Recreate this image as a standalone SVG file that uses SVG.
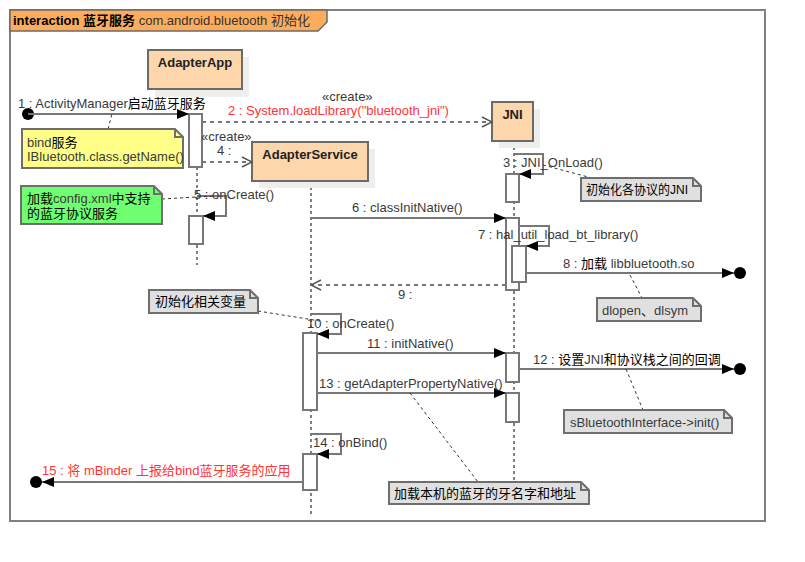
<svg xmlns="http://www.w3.org/2000/svg" width="805" height="562" viewBox="0 0 805 562">
<defs>
<style>
text{font-family:"Liberation Sans",Arial,"Noto Sans CJK SC",sans-serif;font-size:13px;fill:#3a3a3a}
.b{font-weight:bold;fill:#222}
.red{fill:#ff3333}
.cn{fill:#000}
.ll{stroke:#000;stroke-width:1;stroke-dasharray:3,3;fill:none}
.msg{stroke:#777;stroke-width:2;fill:none}
.dmsg{stroke:#777;stroke-width:2;stroke-dasharray:4,4;fill:none}
.act{fill:#fff;stroke:#777;stroke-width:2}
.box{fill:#fdd6ab;stroke:#6e6a66;stroke-width:2}
.sh{fill:#eeeeee}
.note{stroke:#6e6e6e;stroke-width:2}
.nl{stroke:#333;stroke-width:1;stroke-dasharray:3,3;fill:none}
</style>
<marker id="fa" viewBox="0 0 12 10" refX="12" refY="5" markerWidth="12" markerHeight="10" markerUnits="userSpaceOnUse" orient="auto">
<path d="M0,0 L12,5 L0,10 z" fill="#000"/>
</marker>
<marker id="oa" viewBox="0 0 12 12" refX="11" refY="6" markerWidth="12" markerHeight="12" markerUnits="userSpaceOnUse" orient="auto">
<path d="M1,1 L11,6 L1,11" fill="none" stroke="#555" stroke-width="1.5"/>
</marker>
</defs>
<rect width="805" height="562" fill="#fff"/>

<g id="frame">
<rect x="10" y="10" width="755" height="511" fill="none" stroke="#808080" stroke-width="2"/>
<path d="M10,10 H327 V22 L318,31 H10 Z" fill="#fdab5c" stroke="#6e6a66" stroke-width="1.5"/>
<text x="13" y="25"><tspan class="b" style="fill:#000">interaction 蓝牙服务</tspan><tspan style="fill:#333">  com.android.bluetooth 初始化</tspan></text>
</g>

<g id="lifelines">
<line class="ll" x1="197" y1="89" x2="197" y2="265"/>
<line class="ll" x1="311" y1="181" x2="311" y2="514"/>
<line class="ll" x1="514" y1="141" x2="514" y2="482"/>
</g>

<g id="AdapterApp">
<rect class="sh" x="155" y="57" width="94" height="40"/>
<rect class="box" x="148" y="50" width="94" height="39"/>
<text class="b" x="195" y="67" text-anchor="middle">AdapterApp</text>
</g>

<g id="JNI">
<rect class="sh" x="499" y="109" width="41" height="39"/>
<rect class="box" x="492" y="102" width="41" height="39"/>
<text class="b" x="512.5" y="119" text-anchor="middle">JNI</text>
</g>

<g id="AdapterService">
<rect class="sh" x="259" y="149" width="116" height="39"/>
<rect class="box" x="252" y="142" width="116" height="39"/>
<text class="b" x="310" y="159" text-anchor="middle">AdapterService</text>
</g>

<g id="activations">
<rect class="act" x="189" y="114" width="13" height="53"/>
<rect class="act" x="189" y="216" width="14" height="28"/>
<rect class="act" x="506" y="174" width="13" height="28"/>
<rect class="act" x="506" y="218" width="13" height="72"/>
<rect class="act" x="512" y="246" width="14" height="36"/>
<rect class="act" x="303" y="333" width="14" height="77"/>
<rect class="act" x="506" y="353" width="13" height="29"/>
<rect class="act" x="506" y="393" width="13" height="29"/>
<rect class="act" x="303" y="454" width="14" height="36"/>
</g>

<g id="connectors">
<circle cx="28" cy="114" r="6" fill="#000"/>
<line class="msg" x1="28" y1="114" x2="189" y2="114" marker-end="url(#fa)"/>
<text x="18" y="108">1 : ActivityManager<tspan class="cn">启动蓝牙服务</tspan></text>

<line class="dmsg" x1="202" y1="122" x2="492" y2="122" marker-end="url(#oa)"/>
<text x="322" y="101">«create»</text>
<text class="red" x="228" y="115">2 : System.loadLibrary("bluetooth_jni")</text>

<polyline class="msg" points="514,154 543,154 543,174 519,174" marker-end="url(#fa)"/>
<text x="503" y="167">3 : JNI_OnLoad()</text>

<line class="dmsg" x1="202" y1="162" x2="252" y2="162" marker-end="url(#oa)"/>
<text x="201" y="141">«create»</text>
<text x="217" y="155">4 :</text>

<polyline class="msg" points="197,196 226,196 226,216 203,216" marker-end="url(#fa)"/>
<text x="194" y="199">5 : onCreate()</text>

<line class="msg" x1="311" y1="218" x2="506" y2="218" marker-end="url(#fa)"/>
<text x="352" y="212">6 : classInitNative()</text>

<polyline class="msg" points="519,226 549,226 549,246 526,246" marker-end="url(#fa)"/>
<text x="478" y="239">7 : hal_util_load_bt_library()</text>

<line class="msg" x1="526" y1="273" x2="734" y2="273" marker-end="url(#fa)"/>
<circle cx="740" cy="273" r="6" fill="#000"/>
<text x="563" y="268">8 : <tspan class="cn">加载</tspan> libbluetooth.so</text>

<line class="dmsg" x1="506" y1="285" x2="311" y2="285" marker-end="url(#oa)"/>
<text x="398" y="299">9 :</text>

<polyline class="msg" points="311,314 341,314 341,334 317,334" marker-end="url(#fa)"/>
<text x="307" y="328">10 : onCreate()</text>

<line class="msg" x1="317" y1="353" x2="506" y2="353" marker-end="url(#fa)"/>
<text x="367" y="348">11 : initNative()</text>

<line class="msg" x1="519" y1="369" x2="734" y2="369" marker-end="url(#fa)"/>
<circle cx="740" cy="369" r="6" fill="#000"/>
<text x="533" y="364">12 : <tspan class="cn">设置</tspan>JNI<tspan class="cn">和协议栈之间的回调</tspan></text>

<line class="msg" x1="317" y1="393" x2="506" y2="393" marker-end="url(#fa)"/>
<text x="319" y="388">13 : getAdapterPropertyNative()</text>

<polyline class="msg" points="311,434 341,434 341,454 317,454" marker-end="url(#fa)"/>
<text x="313" y="447">14 : onBind()</text>

<line class="msg" x1="303" y1="482" x2="42" y2="482" marker-end="url(#fa)"/>
<circle cx="36" cy="482" r="6" fill="#000"/>
<text class="red" x="42" y="475">15 : 将 mBinder 上报给bind蓝牙服务的应用</text>

<line class="nl" x1="108" y1="129" x2="112" y2="114"/>
<line class="nl" x1="162" y1="199" x2="213" y2="196"/>
<line class="nl" x1="543" y1="165" x2="592" y2="178"/>
<line class="nl" x1="630" y1="275" x2="642" y2="298"/>
<line class="nl" x1="258" y1="311" x2="320" y2="321"/>
<line class="nl" x1="626" y1="369" x2="643" y2="410"/>
<line class="nl" x1="410" y1="393" x2="478" y2="482"/>
</g>

<g id="note-bind">
<path class="note" d="M22,129 H175 L183,137 V168 H22 Z" fill="#ffff88"/>
<path class="note" d="M175,129 V137 H183" fill="none"/>
<text x="27" y="147">bind<tspan class="cn">服务</tspan></text>
<text x="27" y="161">IBluetooth.class.getName()</text>
</g>

<g id="note-config">
<path class="note" d="M21,186 H154 L162,194 V224 H21 Z" fill="#70ff70"/>
<path class="note" d="M154,186 V194 H162" fill="none"/>
<text x="27" y="203"><tspan class="cn">加载</tspan>config.xml<tspan class="cn">中支持</tspan></text>
<text class="cn" x="27" y="218">的蓝牙协议服务</text>
</g>

<g id="note-jni">
<path class="note" d="M581,178 H693 L701,186 V201 H581 Z" fill="#e0e0e0"/>
<path class="note" d="M693,178 V186 H701" fill="none"/>
<text class="cn" x="586" y="194" textLength="102" lengthAdjust="spacingAndGlyphs">初始化各协议的JNI</text>
</g>

<g id="note-dlopen">
<path class="note" d="M597,298 H693 L701,306 V321 H597 Z" fill="#e0e0e0"/>
<path class="note" d="M693,298 V306 H701" fill="none"/>
<text x="602" y="315">dlopen<tspan class="cn">、</tspan>dlsym</text>
</g>

<g id="note-vars">
<path class="note" d="M149,290 H250 L258,298 V313 H149 Z" fill="#e0e0e0"/>
<path class="note" d="M250,290 V298 H258" fill="none"/>
<text class="cn" x="155" y="306">初始化相关变量</text>
</g>

<g id="note-init">
<path class="note" d="M564,410 H724 L732,418 V433 H564 Z" fill="#e0e0e0"/>
<path class="note" d="M724,410 V418 H732" fill="none"/>
<text x="570" y="427">sBluetoothInterface-&gt;init()</text>
</g>

<g id="note-addr">
<path class="note" d="M389,482 H581 L589,490 V504 H389 Z" fill="#e0e0e0"/>
<path class="note" d="M581,482 V490 H589" fill="none"/>
<text class="cn" x="394" y="498">加载本机的蓝牙的牙名字和地址</text>
</g>
</svg>
